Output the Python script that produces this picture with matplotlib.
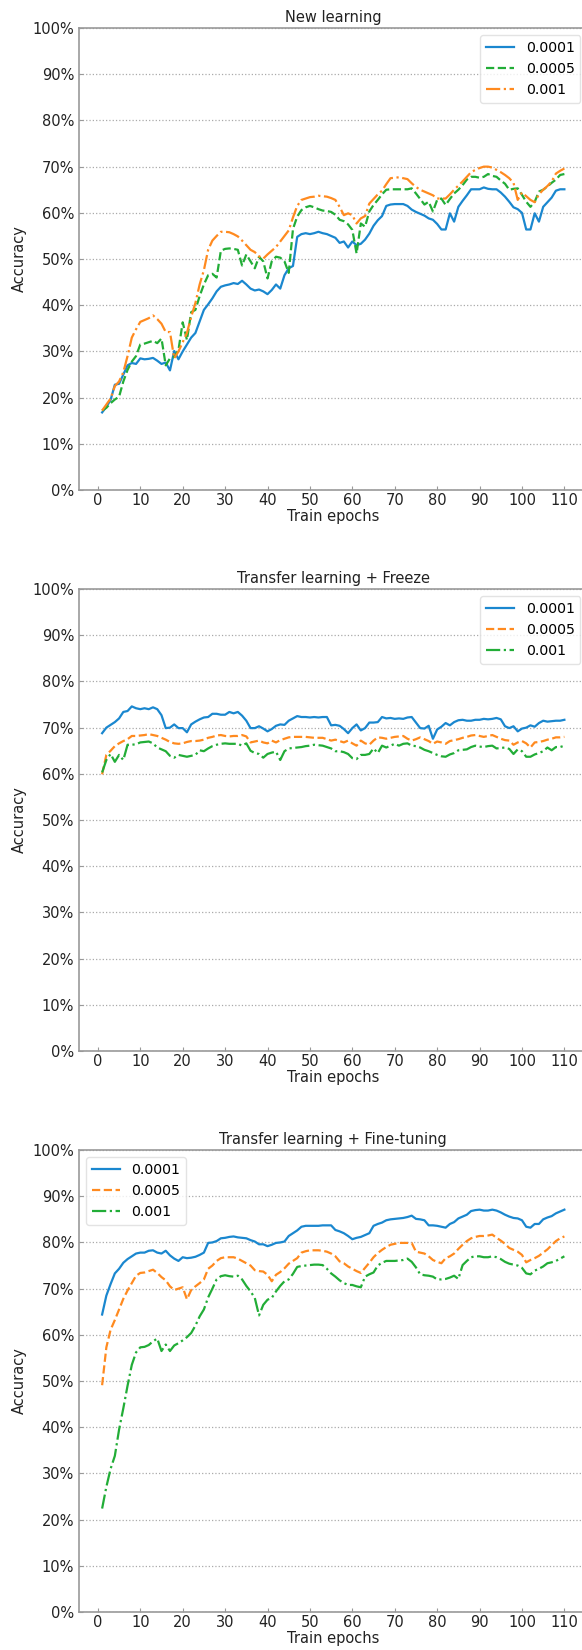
import numpy as np
import matplotlib
matplotlib.use("Agg")
import matplotlib.pyplot as plt
from matplotlib.ticker import FuncFormatter

epochs = np.arange(1, 111)
lr_labels = ["0.0001", "0.0005", "0.001"]
titles = ["New learning", "Transfer learning + Freeze", "Transfer learning + Fine-tuning"]

# accuracy (%) per epoch, new learning
new_0001 = [16.8, 18.0, 19.5, 22.8, 23.0, 25.0, 27.0, 27.5, 27.3, 28.5,
            28.3, 28.4, 28.6, 28.0, 27.3, 27.6, 25.9, 30.1, 28.3, 30.0,
            31.5, 33.0, 34.0, 36.5, 39.0, 40.2, 41.5, 43.0, 44.0, 44.3,
            44.5, 44.8, 44.6, 45.3, 44.5, 43.6, 43.2, 43.4, 43.0, 42.4,
            43.3, 44.5, 43.6, 46.5, 48.0, 48.5, 54.8, 55.4, 55.6, 55.4,
            55.6, 55.9, 55.6, 55.4, 55.0, 54.6, 53.5, 53.8, 52.5, 53.8,
            53.0, 53.3, 54.2, 55.5, 57.2, 58.4, 59.3, 61.5, 61.8, 61.9,
            61.9, 61.9, 61.5, 60.7, 60.2, 59.8, 59.4, 58.8, 58.5, 57.6,
            56.4, 56.4, 59.9, 58.1, 61.3, 62.6, 63.8, 65.1, 65.1, 65.1,
            65.5, 65.2, 65.1, 65.1, 64.4, 63.5, 62.4, 61.2, 60.8, 60.0,
            56.4, 56.4, 59.9, 58.1, 61.3, 62.3, 63.3, 64.8, 65.1, 65.1]
new_0005 = [17.2, 17.8, 18.8, 19.6, 20.2, 23.5, 26.0, 27.8, 29.0, 31.5,
            31.7, 32.0, 32.3, 31.8, 32.8, 27.0, 28.5, 28.8, 30.3, 36.3,
            32.5, 38.5, 39.0, 42.0, 44.5, 46.5, 46.8, 46.0, 51.8, 52.2,
            52.3, 52.2, 52.0, 48.6, 51.0, 49.5, 48.0, 50.5, 49.5, 45.8,
            49.5, 50.5, 50.3, 49.5, 47.0, 56.5, 59.2, 60.6, 61.2, 61.5,
            61.2, 60.8, 60.5, 60.4, 60.2, 59.6, 58.5, 58.2, 57.5, 56.3,
            51.2, 57.7, 57.0, 60.3, 61.7, 62.8, 64.0, 65.0, 65.1, 65.1,
            65.1, 65.1, 65.1, 65.3, 64.2, 63.0, 61.8, 62.4, 60.3, 62.8,
            63.1, 61.7, 63.0, 64.2, 65.0, 66.0, 67.2, 67.8, 67.8, 67.6,
            67.8, 68.4, 68.0, 67.8, 67.0, 66.3, 65.0, 65.2, 65.3, 63.9,
            62.4, 61.3, 62.4, 64.6, 65.0, 65.7, 66.5, 67.2, 68.2, 68.4]
new_001 = [17.2, 18.5, 19.8, 22.5, 23.5, 25.5, 29.0, 33.0, 34.8, 36.4,
           36.8, 37.2, 37.8, 37.0, 36.0, 34.2, 34.2, 28.5, 30.0, 32.0,
           34.0, 37.5, 40.5, 44.5, 47.6, 52.0, 54.0, 55.0, 55.9, 55.9,
           55.8, 55.4, 54.9, 54.0, 53.0, 52.0, 51.5, 50.6, 50.1, 51.0,
           51.8, 52.6, 53.8, 55.0, 56.2, 59.0, 61.5, 62.8, 63.1, 63.4,
           63.5, 63.7, 63.6, 63.5, 63.2, 62.8, 61.3, 59.5, 59.9, 59.5,
           57.7, 58.8, 59.3, 62.0, 63.0, 64.0, 64.8, 66.2, 67.5, 67.6,
           67.7, 67.5, 67.3, 66.4, 65.6, 65.0, 64.6, 64.2, 63.8, 63.1,
           63.1, 63.1, 64.0, 65.0, 65.9, 66.8, 67.8, 68.8, 69.3, 69.7,
           70.0, 70.0, 69.8, 69.3, 68.8, 68.2, 67.5, 66.5, 62.8, 64.4,
           63.6, 62.8, 62.3, 64.0, 65.0, 65.8, 66.8, 68.5, 69.1, 69.6]

# transfer learning with frozen backbone
frz_0001 = [68.8, 70.0, 70.6, 71.2, 72.0, 73.4, 73.6, 74.6, 74.2, 74.0,
            74.2, 74.0, 74.4, 74.0, 72.7, 69.9, 70.0, 70.7, 69.9, 69.9,
            69.0, 70.7, 71.3, 71.8, 72.2, 72.3, 73.0, 73.0, 72.8, 72.8,
            73.4, 73.1, 73.4, 72.6, 71.5, 69.9, 69.9, 70.3, 69.8, 69.2,
            69.7, 70.4, 70.7, 70.6, 71.5, 72.0, 72.5, 72.3, 72.3, 72.2,
            72.3, 72.2, 72.3, 72.3, 70.5, 70.6, 70.4, 69.7, 68.8, 69.9,
            70.7, 69.4, 69.9, 71.1, 71.1, 71.2, 72.3, 72.0, 72.1, 71.9,
            72.0, 71.9, 72.2, 72.3, 71.1, 69.9, 69.8, 70.4, 67.6, 69.6,
            70.2, 71.0, 70.5, 71.2, 71.6, 71.7, 71.5, 71.5, 71.7, 71.7,
            71.9, 71.8, 71.9, 72.1, 71.8, 70.3, 69.9, 70.3, 69.2, 69.8,
            70.0, 70.5, 70.2, 71.0, 71.5, 71.3, 71.4, 71.5, 71.5, 71.7]
frz_0005 = [59.9, 64.1, 65.0, 66.0, 66.6, 67.1, 67.5, 68.2, 68.2, 68.3,
            68.4, 68.6, 68.4, 68.2, 67.8, 67.4, 66.9, 66.6, 66.5, 66.6,
            66.9, 67.1, 67.1, 67.2, 67.4, 67.8, 68.0, 68.3, 68.4, 68.2,
            68.1, 68.2, 68.2, 68.4, 68.1, 66.8, 67.0, 67.2, 66.8, 66.6,
            67.2, 66.8, 67.3, 67.6, 67.9, 68.0, 68.0, 68.0, 68.0, 67.9,
            67.8, 67.8, 67.8, 67.5, 67.2, 67.4, 67.1, 66.8, 67.2, 66.6,
            66.1, 67.2, 66.6, 66.3, 67.2, 67.9, 67.8, 67.6, 67.8, 68.0,
            68.1, 68.2, 67.6, 67.2, 67.5, 67.9, 67.5, 67.1, 66.5, 67.0,
            66.8, 66.5, 67.1, 67.3, 67.5, 67.8, 68.0, 68.3, 68.4, 68.2,
            68.0, 68.2, 68.4, 68.0, 67.6, 67.3, 67.2, 66.3, 66.8, 67.1,
            66.6, 65.7, 66.8, 66.9, 67.1, 67.4, 67.6, 67.9, 67.9, 68.0]
frz_001 = [60.3, 63.0, 64.3, 62.6, 64.1, 63.0, 66.3, 66.3, 66.4, 66.8,
           66.9, 67.0, 66.6, 65.7, 65.3, 64.9, 63.9, 63.5, 64.1, 63.9,
           63.7, 63.9, 64.1, 65.1, 64.9, 65.5, 66.0, 66.3, 66.5, 66.6,
           66.5, 66.5, 66.5, 66.1, 66.6, 65.0, 64.5, 64.3, 63.5, 64.3,
           64.6, 64.8, 63.0, 64.9, 65.5, 65.6, 65.7, 65.8, 66.0, 66.1,
           66.3, 66.2, 66.1, 65.8, 65.5, 64.9, 64.9, 64.7, 64.3, 63.4,
           63.2, 64.1, 64.1, 64.3, 65.5, 64.5, 66.1, 65.7, 66.1, 66.5,
           66.1, 66.5, 66.6, 66.1, 66.0, 65.7, 65.2, 64.9, 64.5, 64.1,
           63.8, 63.7, 64.2, 64.5, 65.1, 65.2, 65.3, 65.8, 66.1, 65.9,
           65.8, 66.0, 66.1, 65.5, 65.6, 65.7, 65.4, 64.3, 65.3, 64.9,
           63.7, 63.7, 64.2, 64.5, 64.9, 65.7, 65.1, 65.8, 65.8, 66.1]

# transfer learning with fine-tuning
ft_0001 = [64.4, 68.5, 71.0, 73.3, 74.3, 75.6, 76.4, 77.0, 77.6, 77.8,
           77.8, 78.2, 78.3, 77.8, 77.6, 78.2, 77.2, 76.5, 76.0, 76.8,
           76.6, 76.7, 76.9, 77.3, 77.8, 79.9, 80.0, 80.3, 80.9, 81.0,
           81.2, 81.3, 81.1, 81.0, 80.9, 80.5, 80.2, 79.6, 79.6, 79.2,
           79.5, 79.9, 80.0, 80.2, 81.4, 82.0, 82.6, 83.4, 83.6, 83.6,
           83.6, 83.6, 83.7, 83.7, 83.7, 82.7, 82.4, 82.0, 81.4, 80.7,
           81.0, 81.2, 81.6, 82.0, 83.6, 84.0, 84.3, 84.8, 85.0, 85.1,
           85.2, 85.3, 85.5, 85.8, 85.1, 85.0, 84.8, 83.7, 83.7, 83.6,
           83.4, 83.2, 84.0, 84.4, 85.2, 85.6, 86.0, 86.8, 87.0, 87.1,
           86.9, 86.9, 87.1, 86.9, 86.5, 86.0, 85.6, 85.3, 85.2, 84.8,
           83.4, 83.2, 84.0, 84.0, 85.0, 85.4, 85.7, 86.3, 86.7, 87.1]
ft_0005 = [49.1, 57.3, 61.1, 63.2, 65.5, 67.8, 69.6, 71.2, 72.8, 73.4,
           73.5, 73.8, 74.1, 73.4, 72.5, 71.8, 70.5, 69.7, 70.0, 70.3,
           67.7, 69.7, 70.5, 71.2, 72.0, 74.3, 75.0, 76.0, 76.6, 76.8,
           76.8, 76.8, 76.5, 76.0, 75.5, 75.0, 74.0, 73.8, 73.7, 73.0,
           71.6, 73.0, 73.6, 74.4, 75.4, 76.0, 76.6, 77.8, 78.1, 78.3,
           78.3, 78.3, 78.2, 78.0, 77.6, 77.0, 75.9, 75.5, 74.8, 74.3,
           73.8, 73.4, 74.5, 75.6, 76.8, 77.7, 78.4, 79.0, 79.5, 79.7,
           79.9, 79.9, 79.9, 79.9, 78.0, 77.8, 77.6, 77.0, 76.2, 75.8,
           75.5, 76.6, 77.0, 77.6, 78.6, 79.5, 80.3, 80.9, 81.2, 81.4,
           81.4, 81.5, 81.7, 81.0, 80.4, 79.7, 78.8, 78.4, 78.0, 77.3,
           75.7, 76.2, 76.6, 77.1, 77.8, 78.5, 79.4, 80.3, 80.9, 81.3]
ft_001 = [22.4, 27.1, 31.0, 33.8, 39.5, 44.1, 49.0, 53.5, 56.2, 57.3,
          57.4, 57.8, 58.6, 59.2, 56.5, 57.9, 56.5, 57.7, 58.2, 58.8,
          59.5, 60.4, 62.0, 64.0, 65.5, 68.1, 70.0, 72.0, 72.7, 72.9,
          72.7, 72.6, 72.8, 72.0, 70.6, 69.4, 68.0, 64.2, 66.5, 67.6,
          68.0, 69.4, 70.6, 71.6, 72.0, 73.2, 74.7, 74.9, 75.0, 75.1,
          75.2, 75.2, 75.1, 74.3, 73.3, 72.6, 71.8, 71.2, 70.8, 70.8,
          70.5, 70.3, 72.6, 73.1, 73.5, 75.0, 75.6, 76.0, 76.0, 76.0,
          76.1, 76.2, 76.5, 75.8, 74.6, 73.1, 72.9, 72.8, 72.6, 72.0,
          72.0, 72.1, 72.4, 72.8, 72.1, 75.1, 76.0, 76.8, 77.0, 77.0,
          76.8, 76.8, 77.0, 76.8, 76.4, 75.8, 75.4, 75.2, 75.0, 74.5,
          73.3, 73.1, 73.9, 74.3, 74.8, 75.5, 75.7, 76.0, 76.5, 77.0]

BLUE, GREEN, ORANGE = "#1a87cf", "#22ad37", "#ff8a1f"

panels = [
    (titles[0], [new_0001, new_0005, new_001], [BLUE, GREEN, ORANGE], "upper right"),
    (titles[1], [frz_0001, frz_0005, frz_001], [BLUE, ORANGE, GREEN], "upper right"),
    (titles[2], [ft_0001, ft_0005, ft_001], [BLUE, ORANGE, GREEN], "upper left"),
]
styles = ["-", "--", "-."]

plt.rcParams["font.family"] = "DejaVu Sans"
plt.rcParams["font.size"] = 10.5

fig = plt.figure(figsize=(5.82, 16.5), dpi=100)
bottoms = [0.7030, 0.3630, 0.0230]

for (title, series, colors, loc), b in zip(panels, bottoms):
    # axes run slightly past the right edge of the figure
    ax = fig.add_axes([79 / 582, b, 508.5 / 582, 0.2800])
    for vals, c, ls, lab in zip(series, colors, styles, lr_labels):
        ax.plot(epochs, vals, color=c, linestyle=ls, linewidth=1.6, label=lab)
    ax.set_ylim(0, 100)
    ax.set_yticks(np.arange(0, 101, 10))
    ax.set_xticks(np.arange(0, 111, 10))
    ax.yaxis.set_major_formatter(FuncFormatter(lambda v, p: "%d%%" % v))
    ax.grid(axis="y", linestyle=":", color="#aaaaaa", linewidth=0.9)
    for s in ax.spines.values():
        s.set_color("#999999")
        s.set_linewidth(1.2)
    ax.spines["right"].set_visible(False)
    ax.tick_params(direction="in", length=3, color="#999999", labelcolor="#222222")
    ax.tick_params(axis="x", pad=2)
    ax.set_title(title, fontsize=10.5, pad=4, color="#222222")
    ax.set_xlabel("Train epochs", labelpad=1, color="#222222")
    ax.set_ylabel("Accuracy", color="#222222")
    ax.legend(loc=loc, fontsize=10.2, edgecolor="#dddddd")

fig.savefig("out.png", dpi=100)
